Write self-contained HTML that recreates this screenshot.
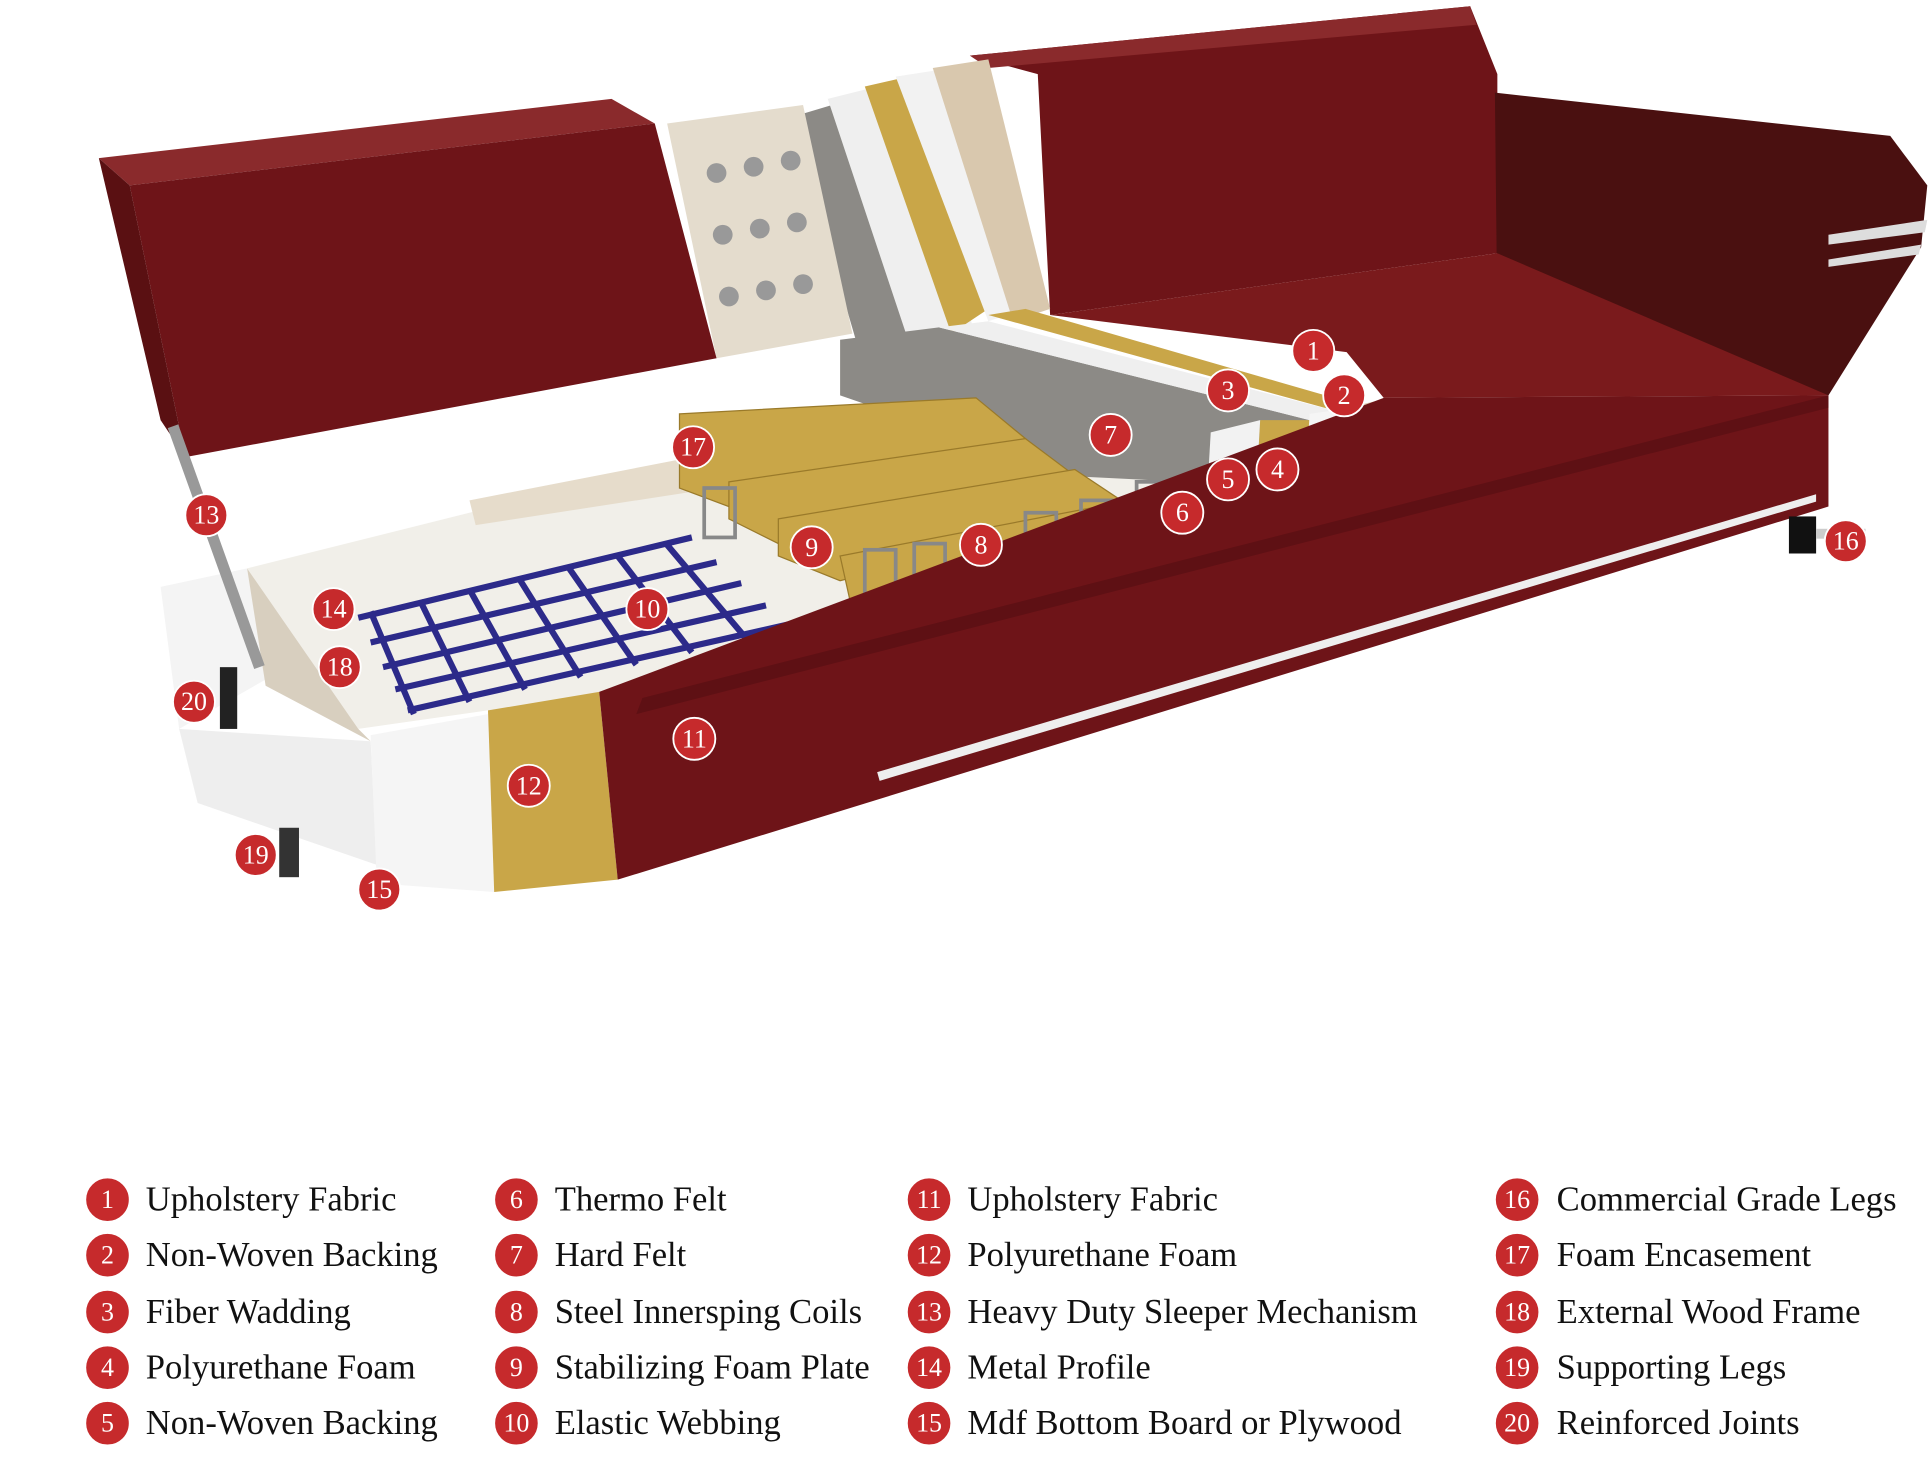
<!DOCTYPE html>
<html><head><meta charset="utf-8"><style>
html,body{margin:0;padding:0;background:#fff;}
svg{display:block;}
.b circle{fill:#c62a2c;stroke:#fff;stroke-width:1.5}
.b text{fill:#fff;font-family:"Liberation Serif",serif;font-size:21px;text-anchor:middle;dominant-baseline:central}
.l text.t{fill:#111;font-family:"Liberation Serif",serif;font-size:28px;dominant-baseline:central}
</style></head><body>
<svg width="1931" height="1467" viewBox="0 0 1563 1187.4" xmlns="http://www.w3.org/2000/svg">
<rect width="1563" height="1188" fill="#fff"/>
<polygon points="785,45 1190,5 1212,60 1212,205 850,255 840,60" fill="#6e1418"/>
<polygon points="785,45 1190,5 1195,20 800,55" fill="#8a2a2c"/>
<polygon points="1210,75 1530,110 1560,150 1555,200 1480,320 1212,260" fill="#4a1010"/>
<polygon points="1480,190 1560,178 1558,188 1480,198" fill="#ddd"/>
<polygon points="1480,210 1555,198 1553,206 1480,216" fill="#ddd"/>
<polygon points="850,255 1212,205 1480,320 1120,322 1090,285" fill="#7a1a1c"/>
<polygon points="640,95 690,80 760,290 700,300" fill="#8c8a86"/>
<polygon points="670,80 710,70 790,270 740,290" fill="#efefef"/>
<polygon points="700,70 735,62 800,250 770,270" fill="#c9a648"/>
<polygon points="725,62 770,55 830,250 800,260" fill="#f2f2f2"/>
<polygon points="755,55 800,48 850,250 820,260" fill="#d9c8ae"/>
<polygon points="540,100 650,85 690,270 580,290" fill="#e4dccd"/>
<g fill="#999"><circle cx="580" cy="140" r="8"/><circle cx="610" cy="135" r="8"/><circle cx="640" cy="130" r="8"/><circle cx="585" cy="190" r="8"/><circle cx="615" cy="185" r="8"/><circle cx="645" cy="180" r="8"/><circle cx="590" cy="240" r="8"/><circle cx="620" cy="235" r="8"/><circle cx="650" cy="230" r="8"/></g>
<polygon points="80,128 495,80 530,100 105,150" fill="#8a2a2c"/>
<polygon points="105,150 530,100 580,290 150,370" fill="#6e1418"/>
<polygon points="80,128 105,150 150,370 130,340" fill="#5a1012"/>
<polygon points="680,275 760,265 1060,340 1060,420 940,410 680,320" fill="#8c8a86"/>
<polygon points="760,265 800,260 1090,335 1060,340" fill="#efefef"/>
<polygon points="800,255 830,250 1090,325 1090,335" fill="#c9a648"/>
<polygon points="1020,340 1060,340 1055,425 1015,430" fill="#c9a648"/>
<polygon points="980,350 1020,340 1015,430 975,435" fill="#f2f2f2"/>
<polygon points="1060,335 1095,330 1095,420 1055,425" fill="#f5f5f5"/>
<polygon points="1090,330 1125,322 1125,412 1092,418" fill="#d9c8ae"/>
<polygon points="200,460 560,370 960,390 960,440 500,560 290,590" fill="#f1efe9"/>
<polygon points="380,405 560,370 580,395 385,425" fill="#e6dccb"/>
<g stroke="#2c2a8a" stroke-width="5" fill="none">
<line x1="290" y1="500" x2="560" y2="435"/><line x1="300" y1="520" x2="580" y2="455"/><line x1="310" y1="540" x2="600" y2="472"/><line x1="320" y1="558" x2="620" y2="490"/><line x1="330" y1="575" x2="640" y2="505"/>
<line x1="300" y1="495" x2="335" y2="578"/><line x1="340" y1="486" x2="380" y2="568"/><line x1="380" y1="477" x2="425" y2="558"/><line x1="420" y1="468" x2="470" y2="548"/><line x1="460" y1="459" x2="515" y2="538"/><line x1="500" y1="450" x2="560" y2="528"/><line x1="540" y1="441" x2="605" y2="518"/>
</g>
<g fill="#c9a648" stroke="#9a7a2a" stroke-width="1">
<polygon points="550,335 790,322 830,355 590,410 550,395"/>
<polygon points="590,390 830,355 870,385 630,440 590,420"/>
<polygon points="630,420 870,380 915,410 680,470 630,450"/>
<polygon points="680,450 915,405 920,470 690,495"/>
</g>
<g fill="none" stroke="#888" stroke-width="3">
<rect x="570" y="395" width="25" height="40"/><rect x="700" y="445" width="25" height="45"/><rect x="740" y="440" width="25" height="45"/><rect x="830" y="415" width="25" height="40"/><rect x="875" y="405" width="25" height="40"/><rect x="920" y="390" width="25" height="40"/>
</g>
<polygon points="130,475 200,460 215,550 145,590" fill="#f4f4f4"/>
<polygon points="145,590 300,600 305,700 160,650" fill="#eeeeee"/>
<polygon points="200,460 290,590 300,600 215,555" fill="#d8cfbf"/>
<line x1="140" y1="345" x2="210" y2="540" stroke="#999" stroke-width="9"/>
<rect x="178" y="540" width="14" height="50" fill="#222"/>
<rect x="226" y="670" width="16" height="40" fill="#333"/>
<polygon points="300,595 395,578 400,722 305,715" fill="#f5f5f5"/>
<polygon points="395,575 485,560 500,712 400,722" fill="#c9a648"/>
<polygon points="485,560 1120,322 1480,320 1480,410 500,712" fill="#6e1418"/>
<polygon points="520,565 1480,320 1480,330 515,578" fill="#5e1014"/>
<polygon points="710,625 1470,400 1470,406 712,632" fill="#eee"/>
<rect x="1448" y="418" width="22" height="30" fill="#111"/>
<rect x="1470" y="428" width="40" height="8" fill="#ccc"/>
<g class="b">
<g transform="translate(1063,284)"><circle r="17"/><text>1</text></g>
<g transform="translate(1088,320)"><circle r="17"/><text>2</text></g>
<g transform="translate(994,316)"><circle r="17"/><text>3</text></g>
<g transform="translate(1034,380)"><circle r="17"/><text>4</text></g>
<g transform="translate(994,388)"><circle r="17"/><text>5</text></g>
<g transform="translate(957,415)"><circle r="17"/><text>6</text></g>
<g transform="translate(899,352)"><circle r="17"/><text>7</text></g>
<g transform="translate(794,441)"><circle r="17"/><text>8</text></g>
<g transform="translate(657,443)"><circle r="17"/><text>9</text></g>
<g transform="translate(524,493)"><circle r="17"/><text>10</text></g>
<g transform="translate(562,598)"><circle r="17"/><text>11</text></g>
<g transform="translate(428,636)"><circle r="17"/><text>12</text></g>
<g transform="translate(167,417)"><circle r="17"/><text>13</text></g>
<g transform="translate(270,493)"><circle r="17"/><text>14</text></g>
<g transform="translate(307,720)"><circle r="17"/><text>15</text></g>
<g transform="translate(1494,438)"><circle r="17"/><text>16</text></g>
<g transform="translate(561,362)"><circle r="17"/><text>17</text></g>
<g transform="translate(275,540)"><circle r="17"/><text>18</text></g>
<g transform="translate(207,692)"><circle r="17"/><text>19</text></g>
<g transform="translate(157,568)"><circle r="17"/><text>20</text></g>
</g>
<g class="l">
<g class="b"><g transform="translate(87,971)"><circle r="18"/><text>1</text></g><g transform="translate(87,1016)"><circle r="18"/><text>2</text></g><g transform="translate(87,1062)"><circle r="18"/><text>3</text></g><g transform="translate(87,1107)"><circle r="18"/><text>4</text></g><g transform="translate(87,1152)"><circle r="18"/><text>5</text></g>
<g transform="translate(418,971)"><circle r="18"/><text>6</text></g><g transform="translate(418,1016)"><circle r="18"/><text>7</text></g><g transform="translate(418,1062)"><circle r="18"/><text>8</text></g><g transform="translate(418,1107)"><circle r="18"/><text>9</text></g><g transform="translate(418,1152)"><circle r="18"/><text>10</text></g>
<g transform="translate(752,971)"><circle r="18"/><text>11</text></g><g transform="translate(752,1016)"><circle r="18"/><text>12</text></g><g transform="translate(752,1062)"><circle r="18"/><text>13</text></g><g transform="translate(752,1107)"><circle r="18"/><text>14</text></g><g transform="translate(752,1152)"><circle r="18"/><text>15</text></g>
<g transform="translate(1228,971)"><circle r="18"/><text>16</text></g><g transform="translate(1228,1016)"><circle r="18"/><text>17</text></g><g transform="translate(1228,1062)"><circle r="18"/><text>18</text></g><g transform="translate(1228,1107)"><circle r="18"/><text>19</text></g><g transform="translate(1228,1152)"><circle r="18"/><text>20</text></g></g>
<text class="t" x="118" y="971">Upholstery Fabric</text>
<text class="t" x="118" y="1016">Non-Woven Backing</text>
<text class="t" x="118" y="1062">Fiber Wadding</text>
<text class="t" x="118" y="1107">Polyurethane Foam</text>
<text class="t" x="118" y="1152">Non-Woven Backing</text>
<text class="t" x="449" y="971">Thermo Felt</text>
<text class="t" x="449" y="1016">Hard Felt</text>
<text class="t" x="449" y="1062">Steel Innersping Coils</text>
<text class="t" x="449" y="1107">Stabilizing Foam Plate</text>
<text class="t" x="449" y="1152">Elastic Webbing</text>
<text class="t" x="783" y="971">Upholstery Fabric</text>
<text class="t" x="783" y="1016">Polyurethane Foam</text>
<text class="t" x="783" y="1062">Heavy Duty Sleeper Mechanism</text>
<text class="t" x="783" y="1107">Metal Profile</text>
<text class="t" x="783" y="1152">Mdf Bottom Board or Plywood</text>
<text class="t" x="1260" y="971">Commercial Grade Legs</text>
<text class="t" x="1260" y="1016">Foam Encasement</text>
<text class="t" x="1260" y="1062">External Wood Frame</text>
<text class="t" x="1260" y="1107">Supporting Legs</text>
<text class="t" x="1260" y="1152">Reinforced Joints</text>
</g>
</svg>
</body></html>
